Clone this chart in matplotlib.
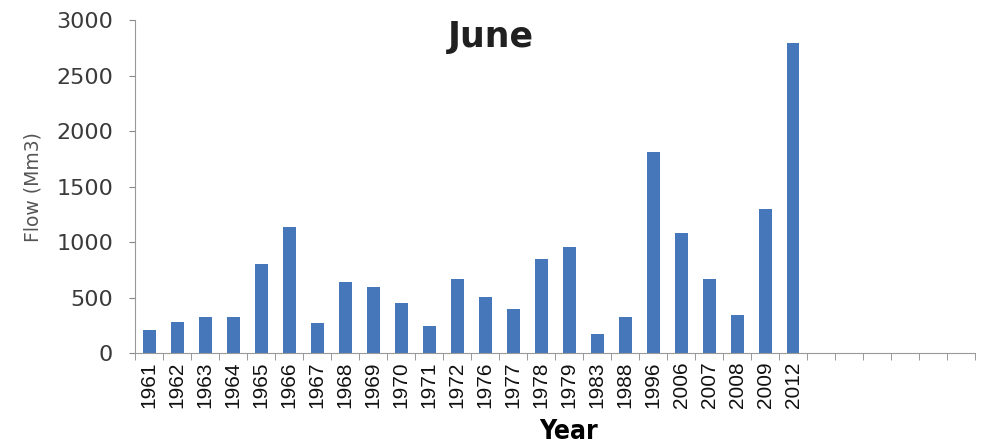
import matplotlib.pyplot as plt
import numpy as np

years = ["1961", "1962", "1963", "1964", "1965", "1966", "1967", "1968",
         "1969", "1970", "1971", "1972", "1976", "1977", "1978", "1979",
         "1983", "1988", "1996", "2006", "2007", "2008", "2009", "2012"]
flow = [210, 280, 325, 325, 800, 1135, 270, 640,
        600, 450, 240, 670, 505, 395, 845, 955,
        170, 325, 1810, 1080, 665, 345, 1300, 2790]
n_slots = 30  # the axis carries 6 empty categories after 2012

fig = plt.figure(figsize=(9.88, 4.47), dpi=100)
ax = fig.add_axes([0.137, 0.21, 0.85, 0.745])

x = np.arange(len(years))
ax.bar(x, flow, width=0.45, color="#4677bb")

ax.set_xlim(-0.5, n_slots - 0.5)
ax.set_ylim(0, 3000)
ax.set_yticks(range(0, 3001, 500))
ax.tick_params(axis="y", labelsize=16, labelcolor="#3a3a3a", color="#888888",
               length=4, direction="out", pad=12)

# labels at bar centres, tick marks at the category boundaries
ax.set_xticks(x)
ax.set_xticklabels(years, rotation=90, fontsize=15, family="Liberation Sans",
                   color="#111111")
ax.tick_params(axis="x", which="major", length=0, pad=6)
ax.set_xticks(np.arange(-0.5, n_slots, 1), minor=True)
ax.tick_params(axis="x", which="minor", length=5, color="#888888")

for side in ["top", "right"]:
    ax.spines[side].set_visible(False)
for side in ["left", "bottom"]:
    ax.spines[side].set_color("#999999")

ax.set_ylabel("Flow (Mm3)", fontsize=13.5, color="#555555", labelpad=10)
fig.text(0.497, 0.917, "June", ha="center", va="center", fontsize=25,
         fontweight="bold", color="#202020")
fig.text(0.575, 0.033, "Year", ha="center", va="center", fontsize=19,
         fontweight="bold", fontstretch="condensed", family="DejaVu Sans")

fig.savefig("out.png", dpi=100)
